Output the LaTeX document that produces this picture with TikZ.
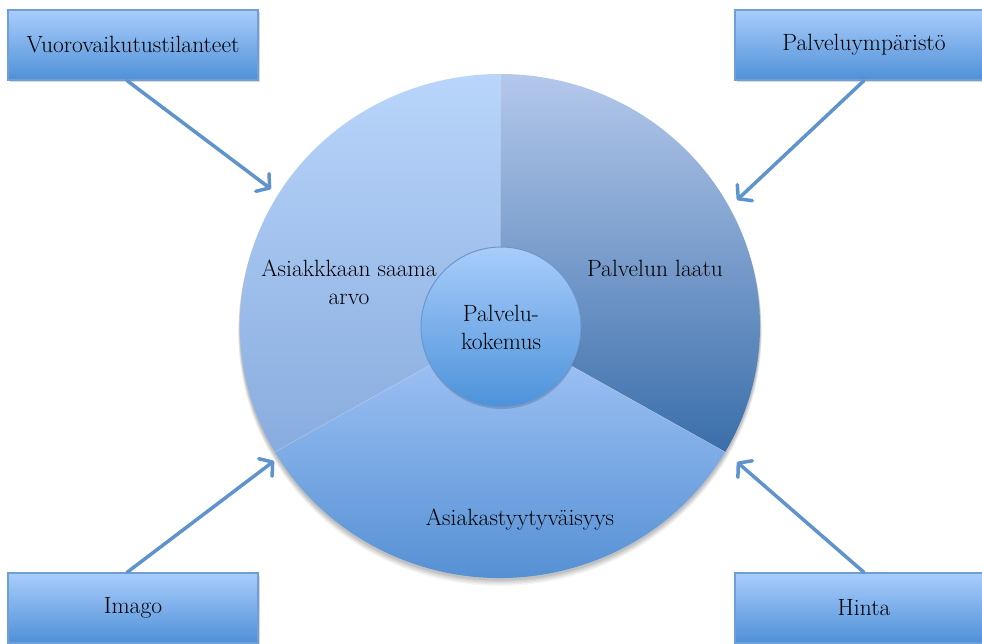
\documentclass[tikz,border=0pt]{standalone}
\usetikzlibrary{arrows.meta,shadows,calc}

% palette
\definecolor{boxtop}{HTML}{A9CDFB}
\definecolor{boxbot}{HTML}{4F90D8}
\definecolor{boxline}{HTML}{6E9FD6}
\definecolor{arrowc}{HTML}{5E93CC}
\definecolor{valtop}{HTML}{B9D5FB}
\definecolor{valbot}{HTML}{88ACDE}
\definecolor{qualtop}{HTML}{B4C8EB}
\definecolor{qualbot}{HTML}{3A6EAA}
\definecolor{sattop}{HTML}{A7C7F8}
\definecolor{satbot}{HTML}{4A89CF}
\definecolor{hubtop}{HTML}{A9CDFB}
\definecolor{hubbot}{HTML}{4C92DA}
\definecolor{hubline}{HTML}{6A98CE}

\tikzset{
  label text/.style={font=\fontsize{23.5}{28}\selectfont, text=black, align=center},
  factor/.style={label text, draw=boxline, line width=1.2pt,
    top color=boxtop, bottom color=boxbot,
    minimum width=250pt, minimum height=70pt, inner sep=0pt,
    drop shadow={shadow xshift=1.5pt, shadow yshift=-2.5pt, opacity=0.22, fill=black!70}},
  wide factor/.style={factor, minimum width=258pt},
  influence/.style={draw=arrowc, line width=3.5pt, line cap=round,
    -{Straight Barb[length=9pt, width=22pt, line cap=round, line join=round]}},
  hub/.style={circle, draw=hubline, line width=1pt, top color=hubtop, bottom color=hubbot,
    minimum size=160pt, inner sep=0pt, label text,
    drop shadow={shadow xshift=0.5pt, shadow yshift=-2pt, opacity=0.25, fill=black!70}},
  sector edge/.style={draw=white, draw opacity=0.25, line width=0.6pt}
}

\begin{document}
\begin{tikzpicture}[x=1pt, y=-1pt]
\useasboundingbox (0,0) rectangle (982,644);

\coordinate (c) at (500,326);

% soft shadow under the wheel
\foreach \s/\o in {6/0.04, 5/0.05, 4/0.05, 3/0.06, 2/0.07}{
  \fill[black, opacity=\o] (500,{326+\s}) ellipse[x radius={260+0.3*\s}, y radius={252+0.3*\s}];
}

% wheel sectors
\shade[top color=valtop, bottom color=valbot]
  (c) -- ++(150:260 and 252) arc[start angle=150, end angle=270, x radius=260, y radius=252] -- cycle;
\shade[top color=qualtop, bottom color=qualbot]
  (c) -- ++(270:260 and 252) arc[start angle=270, end angle=390, x radius=260, y radius=252] -- cycle;
\shade[top color=sattop, bottom color=satbot]
  (c) -- ++(30:260 and 252) arc[start angle=30, end angle=150, x radius=260, y radius=252] -- cycle;

% faint borders between the sectors
\path[sector edge] (c) -- ++(270:260 and 252);
\path[sector edge] (c) -- ++(150:260 and 252);
\path[sector edge] (c) -- ++(30:260 and 252);

% sector labels
\node[label text] (arvo) at (349,282) {Asiakkkaan saama\\arvo};
\node[label text] (laatu) at (655,268) {Palvelun laatu};
\node[label text] (tyyt) at (520,520) {Asiakastyytyväisyys};

% centre
\node[hub] (kokemus) at (501,327) {Palvelu-\\kokemus};

% outer factors
\node[factor] (vuoro) at (133,45) {Vuorovaikutustilanteet};
\node[wide factor] (ymparisto) at (864,45) {Palveluympäristö};
\node[factor] (imago) at (133,608) {Imago};
\node[wide factor] (hinta) at (864,608) {Hinta};

% arrow targets on the wheel rim
\coordinate (rimNW) at (271,189);
\coordinate (rimNE) at (737,200);
\coordinate (rimSW) at (274,461);
\coordinate (rimSE) at (737,462);

\draw[influence] ([xshift=-6pt]vuoro.south) -- (rimNW);
\draw[influence] (ymparisto.south) -- (rimNE);
\draw[influence] ([xshift=-6pt]imago.north) -- (rimSW);
\draw[influence] (hinta.north) -- (rimSE);
\end{tikzpicture}
\end{document}
